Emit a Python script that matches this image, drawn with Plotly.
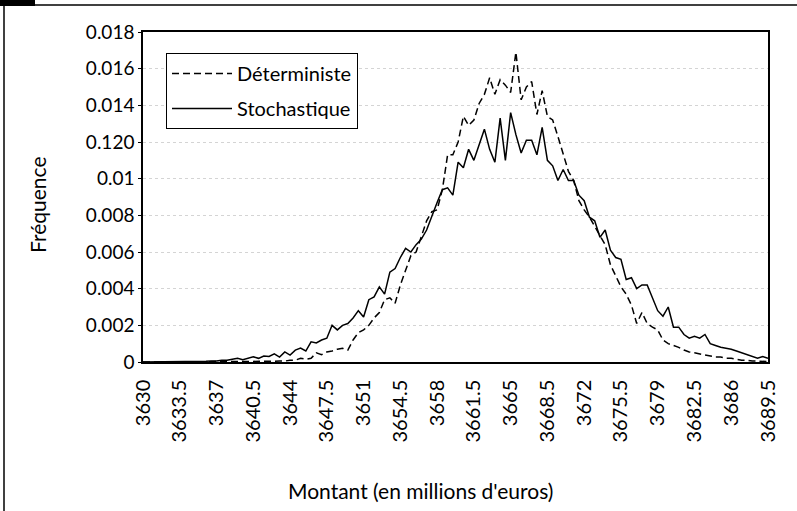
import plotly.graph_objects as go

x_start = 3630.0
x_step = 0.5
n_points = 120
montant = [x_start + x_step * i for i in range(n_points)]

deterministe = [
    0, 0, 0, 0, 0, 0, 0, 0, 0, 0,
    0, 0, 0, 0, 0, 0.00001, 0.00001, 0.00001, 0.00002, 0.00002,
    0.00002, 0.00003, 0.00003, 0.00003, 0.00004, 0.00004, 0.00005, 0.00005, 0.0001, 0.0001,
    0.0002, 0.00015, 0.0002, 0.0005, 0.0004, 0.00055, 0.0006, 0.0007, 0.00075, 0.00065,
    0.0012, 0.0016, 0.00175, 0.002, 0.0024, 0.0027, 0.0034, 0.0035, 0.0032, 0.0042,
    0.005, 0.0058, 0.006, 0.0069, 0.0077, 0.0082, 0.0083, 0.0094, 0.0113, 0.0113,
    0.012, 0.0134, 0.0129, 0.0132, 0.0141, 0.0146, 0.0155, 0.0146, 0.0154, 0.0151,
    0.0147, 0.0169, 0.0143, 0.015, 0.0153, 0.0135, 0.0148, 0.0134, 0.0132, 0.0123,
    0.0113, 0.0104, 0.0099, 0.0088, 0.0083, 0.0079, 0.0074, 0.0069, 0.0064, 0.0053,
    0.0047, 0.0041, 0.0037, 0.0031, 0.0021, 0.0027, 0.0021, 0.0019, 0.00175, 0.0012,
    0.001, 0.0009, 0.0008, 0.00065, 0.00055, 0.0005, 0.00044, 0.0004, 0.00033, 0.00027,
    0.00027, 0.0002, 0.0002, 0.00015, 0.0001, 0.0001, 0.00005, 0.00005, 0.00002, 0.00002,
]

stochastique = [
    0, 0, 0, 0, 0, 0, 0.00002, 0.00003, 0.00002, 0.00003,
    0.00003, 0.00002, 0.00004, 0.00005, 0.00005, 0.0001, 0.0001, 0.00015, 0.0002, 0.00013,
    0.0002, 0.00028, 0.0002, 0.00033, 0.0003, 0.00044, 0.00027, 0.00055, 0.00038, 0.00065,
    0.00076, 0.0006, 0.0011, 0.00104, 0.0012, 0.0013, 0.002, 0.00175, 0.002, 0.0021,
    0.0024, 0.0028, 0.00245, 0.0034, 0.00355, 0.0041, 0.0037, 0.0049, 0.0051, 0.0057,
    0.0062, 0.006, 0.0064, 0.0067, 0.0072, 0.008, 0.0087, 0.0094, 0.0095, 0.0091,
    0.0109, 0.0106, 0.0116, 0.011, 0.0118, 0.0127, 0.0116, 0.0109, 0.0133, 0.011,
    0.0136, 0.0124, 0.0114, 0.0121, 0.0121, 0.0113, 0.0128, 0.011, 0.0107, 0.0099,
    0.0105, 0.0099, 0.0099, 0.0091, 0.0088, 0.0079, 0.0077, 0.0068, 0.0072, 0.0061,
    0.0057, 0.0056, 0.0045, 0.0046, 0.004, 0.0042, 0.0042, 0.0035, 0.0028, 0.0025,
    0.003, 0.0019, 0.0019, 0.0015, 0.0013, 0.0014, 0.0013, 0.0015, 0.001, 0.0009,
    0.0008, 0.00075, 0.0007, 0.0006, 0.0005, 0.0004, 0.0003, 0.0002, 0.0003, 0.0002,
]

y_tickvals = [0, 0.002, 0.004, 0.006, 0.008, 0.010, 0.012, 0.014, 0.016, 0.018]
y_ticktext = ["0", "0.002", "0.004", "0.006", "0.008", "0.01", "0.120", "0.014", "0.016", "0.018"]

x_tickvals = [3630 + 3.5 * k for k in range(18)]
x_ticktext = ["3630", "3633.5", "3637", "3640.5", "3644", "3647.5", "3651", "3654.5", "3658",
              "3661.5", "3665", "3668.5", "3672", "3675.5", "3679", "3682.5", "3686", "3689.5"]

FONT = "Lato, 'Open Sans', sans-serif"

fig = go.Figure()
fig.add_trace(go.Scatter(
    x=montant, y=deterministe, mode="lines", name="Déterministe", legendgroup="d",
    line=dict(color="black", width=1.5, dash="7px,4px"),
))
fig.add_trace(go.Scatter(
    x=montant, y=stochastique, mode="lines", name="Stochastique", legendgroup="s",
    line=dict(color="black", width=1.5),
))

L, R, T, B = 143, 29, 32, 149
W, H = 797, 511
pw, ph = W - L - R, H - T - B

def px(xp):
    return (xp - L) / pw

def py(yp):
    return (H - B - yp) / ph

fig.update_layout(
    width=W, height=H,
    margin=dict(l=L, r=R, t=T, b=B, autoexpand=False),
    paper_bgcolor="white", plot_bgcolor="white",
    font=dict(family=FONT, color="black", size=18),
    showlegend=True,
    legend=dict(
        x=px(166), y=py(53), xanchor="left", yanchor="top",
        bordercolor="black", borderwidth=1, bgcolor="white",
        font=dict(family=FONT, size=20, color="black"),
        itemwidth=60, tracegroupgap=6,
    ),
    xaxis=dict(
        range=[3630, 3689.5], automargin=False,
        tickmode="array", tickvals=x_tickvals, ticktext=x_ticktext,
        tickangle=-90, tickfont=dict(size=20),
        showgrid=False, zeroline=False,
        showline=True, linecolor="black", linewidth=1.5, mirror=True,
        ticks="", ticklabelstandoff=8,
    ),
    yaxis=dict(
        range=[0, 0.018], automargin=False,
        tickmode="array", tickvals=y_tickvals, ticktext=y_ticktext,
        tickfont=dict(size=19),
        showgrid=True, gridcolor="#d4d4d4", griddash="dot", gridwidth=1,
        zeroline=False,
        showline=True, linecolor="black", linewidth=1.5, mirror=True,
        ticks="outside", ticklen=3, tickcolor="black",
    ),
    annotations=[
        dict(text="Montant (en millions d'euros)", xref="paper", yref="paper",
             x=px(420), y=py(490), xanchor="center", yanchor="middle",
             showarrow=False, font=dict(size=21)),
        dict(text="Fréquence", xref="paper", yref="paper",
             x=px(38), y=py(205), xanchor="center", yanchor="middle",
             textangle=-90, showarrow=False, font=dict(size=21)),
    ],
    shapes=[
        dict(type="rect", xref="paper", yref="paper",
             x0=px(0), x1=px(35), y0=py(6), y1=py(0),
             fillcolor="black", line=dict(width=0), layer="above"),
        dict(type="line", xref="paper", yref="paper",
             x0=px(0), x1=px(797), y0=py(5), y1=py(5),
             line=dict(color="black", width=1.5)),
        dict(type="line", xref="paper", yref="paper",
             x0=px(4), x1=px(4), y0=py(5), y1=py(511),
             line=dict(color="black", width=1.5)),
    ],
)

fig.write_html(
    "out.html",
    config={"displayModeBar": False},
    post_script="document.body.style.margin='0';document.body.style.overflow='hidden';",
)
